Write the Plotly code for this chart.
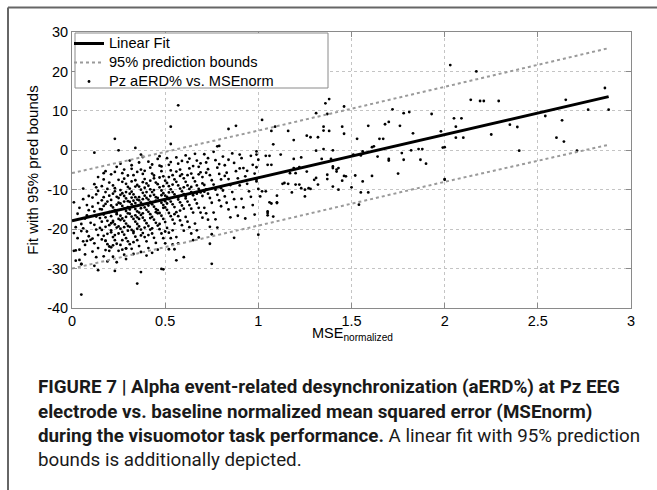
import plotly.graph_objects as go

# ---------------- data ----------------
fit_x = [0.0, 2.88]
fit_y = [-17.9, 13.6]

bound_x = [0.0, 1.0, 2.0, 2.88]
upper_y = [-5.8, 5.0, 16.1, 25.9]
lower_y = [-30.0, -19.1, -8.0, 1.4]

pts_dense_a = [
    (0.01,-13.2),(0.02,-19.5),(0.03,-16.1),(0.02,-25.4),(0.04,-27.8),(0.03,-22.3),(0.05,-18.7),(0.04,-14.6),(0.01,-21.0),(0.05,-28.9),
    (0.06,-12.4),(0.07,-17.3),(0.08,-20.6),(0.06,-23.1),(0.09,-15.2),(0.07,-26.4),(0.08,-13.9),(0.09,-21.8),(0.06,-9.7),(0.10,-18.4),
    (0.07,-24.0),(0.09,-11.6),(0.08,-16.5),(0.10,-22.7),(0.06,-19.8),
    (0.11,-14.3),(0.12,-18.9),(0.13,-11.2),(0.14,-21.5),(0.11,-25.7),(0.12,-8.6),(0.13,-16.8),(0.14,-13.4),(0.15,-19.7),(0.11,-22.4),
    (0.12,-15.5),(0.13,-27.1),(0.14,-10.3),(0.15,-17.2),(0.11,-12.0),(0.12,-23.6),(0.13,-20.1),(0.14,-6.8),(0.15,-14.9),(0.12,-29.3),
    (0.14,-24.8),(0.13,-9.4),
    (0.16,-12.7),(0.17,-16.3),(0.18,-19.4),(0.19,-9.8),(0.16,-22.6),(0.17,-14.1),(0.18,-25.3),(0.19,-17.9),(0.20,-11.5),(0.16,-20.2),
    (0.17,-7.4),(0.18,-13.6),(0.19,-23.8),(0.20,-15.7),(0.16,-18.1),(0.17,-26.9),(0.18,-10.6),(0.19,-21.2),(0.20,-19.0),(0.16,-15.0),
    (0.17,-11.9),(0.18,-17.0),(0.19,-13.0),(0.20,-24.4),(0.17,-21.7),(0.18,-5.3),(0.19,-28.2),(0.16,-9.1),(0.20,-8.2),(0.18,-22.9),
    (0.21,-6.1),(0.22,-8.9),(0.23,-10.4),(0.24,-11.8),(0.21,-12.6),(0.25,-13.3),(0.22,-14.5),(0.23,-15.2),(0.24,-15.9),(0.21,-16.7),
    (0.25,-17.4),(0.22,-18.2),(0.23,-18.8),(0.24,-19.6),(0.21,-20.3),(0.25,-21.1),(0.22,-22.0),(0.23,-22.8),(0.24,-23.7),(0.21,-24.6),
    (0.25,-25.5),(0.22,-27.0),(0.24,-28.4),(0.23,-9.6),(0.25,-12.1),(0.21,-14.0),(0.24,-16.2),(0.22,-17.9),(0.25,-19.3),(0.23,-21.5),
    (0.24,-13.8),(0.22,-11.0),(0.25,-7.5),(0.21,-20.8),(0.23,-15.5),(0.22,-24.1),(0.24,-4.2),(0.21,-18.5),
    (0.26,-3.4),(0.27,-5.8),(0.28,-7.2),(0.29,-8.5),(0.30,-9.3),(0.26,-10.1),(0.27,-10.9),(0.28,-11.6),(0.29,-12.2),(0.30,-12.9),
    (0.26,-13.5),(0.27,-14.1),(0.28,-14.8),(0.29,-15.4),(0.30,-16.0),(0.26,-16.6),(0.27,-17.3),(0.28,-17.9),(0.29,-18.6),(0.30,-19.2),
    (0.26,-19.9),(0.27,-20.7),(0.28,-21.4),(0.29,-22.3),(0.30,-23.1),(0.26,-24.0),(0.27,-25.2),(0.28,-26.5),(0.29,-24.9),(0.30,-6.4),
    (0.27,-8.0),(0.28,-13.0),(0.29,-16.9),(0.26,-11.3),(0.30,-14.4),(0.28,-19.5),(0.27,-22.8),(0.29,-10.6),(0.26,-17.7),(0.30,-20.4),
    (0.28,-4.9),(0.29,-27.6),
]

pts_dense_b = [
    (0.31,-2.6),(0.32,-4.7),(0.33,-6.3),(0.34,-7.6),(0.35,-8.8),(0.31,-9.7),(0.32,-10.5),(0.33,-11.2),(0.34,-11.9),(0.35,-12.5),
    (0.31,-13.1),(0.32,-13.7),(0.33,-14.3),(0.34,-14.9),(0.35,-15.5),(0.31,-16.1),(0.32,-16.8),(0.33,-17.4),(0.34,-18.1),(0.35,-18.7),
    (0.31,-19.4),(0.32,-20.2),(0.33,-21.0),(0.34,-21.9),(0.35,-22.8),(0.31,-23.8),(0.32,-25.0),(0.33,-26.3),(0.34,-9.2),(0.35,-5.5),
    (0.32,-7.9),(0.33,-12.8),(0.31,-15.0),(0.34,-16.5),(0.35,-19.9),(0.32,-12.0),(0.33,-23.3),(0.31,-11.0),(0.34,-13.4),(0.35,-17.0),
    (0.32,-3.8),(0.33,-20.6),
    (0.36,-3.1),(0.37,-4.9),(0.38,-6.0),(0.39,-7.3),(0.40,-8.4),(0.36,-9.2),(0.37,-10.0),(0.38,-10.8),(0.39,-11.5),(0.40,-12.1),
    (0.36,-12.7),(0.37,-13.3),(0.38,-13.9),(0.39,-14.5),(0.40,-15.1),(0.36,-15.8),(0.37,-16.4),(0.38,-17.1),(0.39,-17.8),(0.40,-18.5),
    (0.36,-19.3),(0.37,-20.1),(0.38,-21.0),(0.39,-22.0),(0.40,-23.1),(0.36,-24.3),(0.37,-25.8),(0.38,-8.1),(0.39,-5.2),(0.40,-10.6),
    (0.36,-11.9),(0.37,-14.7),(0.38,-16.0),(0.39,-19.6),(0.40,-13.6),(0.37,-21.6),(0.38,-12.4),(0.36,-17.4),(0.39,-9.5),(0.40,-26.7),
    (0.41,-2.9),(0.42,-4.4),(0.43,-5.9),(0.44,-7.1),(0.45,-8.2),(0.41,-9.0),(0.42,-9.9),(0.43,-10.6),(0.44,-11.3),(0.45,-11.9),
    (0.41,-12.5),(0.42,-13.1),(0.43,-13.7),(0.44,-14.3),(0.45,-14.9),(0.41,-15.6),(0.42,-16.2),(0.43,-16.9),(0.44,-17.6),(0.45,-18.4),
    (0.41,-19.2),(0.42,-20.1),(0.43,-21.1),(0.44,-22.2),(0.45,-23.5),(0.41,-24.8),(0.42,-7.7),(0.43,-3.6),(0.44,-10.1),(0.45,-12.8),
    (0.41,-14.0),(0.42,-17.2),(0.43,-19.8),(0.44,-6.4),(0.45,-15.7),(0.42,-11.6),(0.43,-26.0),(0.41,-21.5),
    (0.46,-2.2),(0.47,-3.9),(0.48,-5.3),(0.49,-6.6),(0.50,-7.7),(0.46,-8.6),(0.47,-9.4),(0.48,-10.2),(0.49,-10.9),(0.50,-11.5),
    (0.46,-12.1),(0.47,-12.7),(0.48,-13.3),(0.49,-13.9),(0.50,-14.5),(0.46,-15.2),(0.47,-15.9),(0.48,-16.6),(0.49,-17.4),(0.50,-18.2),
    (0.46,-19.1),(0.47,-20.0),(0.48,-21.1),(0.49,-22.3),(0.50,-23.6),(0.46,-25.2),(0.47,-6.9),(0.48,-4.1),(0.49,-9.1),(0.50,-12.9),
    (0.46,-16.0),(0.47,-18.7),(0.48,-11.4),(0.49,-14.6),(0.50,-20.6),(0.47,-1.5),
]

pts_dense_c = [
    (0.51,-2.0),(0.52,-3.7),(0.53,-5.1),(0.54,-6.3),(0.55,-7.4),(0.51,-8.3),(0.52,-9.1),(0.53,-9.9),(0.54,-10.6),(0.55,-11.2),
    (0.51,-11.8),(0.52,-12.4),(0.53,-13.0),(0.54,-13.7),(0.55,-14.4),(0.51,-15.1),(0.52,-15.9),(0.53,-16.7),(0.54,-17.6),(0.55,-18.6),
    (0.51,-19.7),(0.52,-20.9),(0.53,-22.3),(0.54,-23.9),(0.55,-25.1),(0.52,-6.8),(0.53,-3.0),(0.54,-8.7),(0.51,-13.5),(0.55,-16.2),
    (0.52,-10.7),(0.54,-20.3),
    (0.56,-1.8),(0.57,-3.4),(0.58,-4.9),(0.59,-6.1),(0.60,-7.1),(0.56,-8.0),(0.57,-8.9),(0.58,-9.7),(0.59,-10.4),(0.60,-11.1),
    (0.56,-11.8),(0.57,-12.5),(0.58,-13.2),(0.59,-14.0),(0.60,-14.8),(0.56,-15.7),(0.57,-16.7),(0.58,-17.8),(0.59,-19.0),(0.60,-20.4),
    (0.56,-22.0),(0.57,-23.6),(0.58,-6.5),(0.59,-2.7),(0.60,-9.4),(0.57,-12.0),(0.58,-15.3),(0.56,-5.4),
    (0.61,-1.3),(0.62,-3.0),(0.63,-4.6),(0.64,-5.9),(0.65,-7.0),(0.61,-8.0),(0.62,-8.9),(0.63,-9.8),(0.64,-10.6),(0.65,-11.4),
    (0.61,-12.2),(0.62,-13.0),(0.63,-13.9),(0.64,-14.8),(0.65,-15.8),(0.61,-16.9),(0.62,-18.1),(0.63,-19.5),(0.64,-21.1),(0.65,-22.8),
    (0.62,-6.3),(0.63,-2.1),(0.64,-9.3),(0.61,-11.7),(0.65,-4.0),
    (0.66,-0.9),(0.67,-2.6),(0.68,-4.2),(0.69,-5.6),(0.70,-6.8),(0.66,-7.9),(0.67,-8.9),(0.68,-9.8),(0.69,-10.7),(0.70,-11.6),
    (0.66,-12.5),(0.67,-13.5),(0.68,-14.6),(0.69,-15.8),(0.70,-17.1),(0.66,-18.6),(0.67,-20.3),(0.68,-22.1),(0.69,-3.3),(0.70,-8.4),
    (0.67,-11.0),(0.68,-6.1),
    (0.71,-1.0),(0.72,-3.1),(0.73,-4.8),(0.74,-6.3),(0.75,-7.6),(0.71,-8.8),(0.72,-9.9),(0.73,-11.0),(0.74,-12.1),(0.75,-13.3),
    (0.71,-14.6),(0.72,-16.0),(0.73,-17.6),(0.74,-19.4),(0.75,-21.3),(0.72,-5.7),(0.73,-2.0),(0.71,-10.5),
    (0.76,-0.4),(0.77,-2.5),(0.78,-4.4),(0.79,-6.0),(0.80,-7.4),(0.76,-8.7),(0.77,-10.0),(0.78,-11.3),(0.79,-12.7),(0.80,-14.2),
    (0.76,-15.8),(0.77,-17.5),(0.78,-19.6),(0.79,-3.5),(0.80,-9.6),
    (0.81,-1.6),(0.82,-3.8),(0.83,-5.7),(0.84,-7.3),(0.85,-8.8),(0.81,-10.2),(0.82,-11.7),(0.83,-13.3),(0.84,-15.0),(0.85,-17.0),
    (0.82,-6.5),(0.84,-2.4),
    (0.86,-0.8),(0.87,-3.2),(0.88,-5.3),(0.89,-7.1),(0.90,-8.9),(0.86,-10.6),(0.87,-12.4),(0.88,-14.4),(0.89,-16.6),(0.90,-4.6),
    (0.91,-2.0),(0.92,-4.5),(0.93,-6.6),(0.94,-8.5),(0.95,-10.4),(0.91,-12.3),(0.92,-14.5),(0.93,-17.3),(0.94,-5.2),
    (0.96,-1.4),(0.97,-3.7),(0.98,-5.9),(0.99,-7.9),(1.00,-9.8),(0.96,-11.8),(0.97,-13.9),(0.98,-16.3),(0.99,-4.3),
]

pts_low = [
    (0.05,-36.6),(0.35,-33.8),(0.37,-30.9),(0.48,-30.1),(0.49,-30.2),(0.56,-27.9),(0.60,-27.1),(0.75,-28.8),(0.74,-23.7),
    (0.87,-22.2),(0.14,-30.4),(0.23,-30.6),(0.05,-28.8),(0.02,-28.0),(0.04,-25.2),(0.01,-25.5),(0.08,-23.0),(0.05,-20.5),
    (0.18,-23.0),(0.20,-25.5),(0.29,-24.9),(0.52,-25.1),
]

pts_high = [
    (0.23,2.9),(0.34,0.6),(0.12,-0.6),(0.25,0.0),(0.37,-1.1),(0.38,-1.7),(0.53,6.0),(0.53,1.6),(0.57,11.4),(0.84,5.4),
    (0.88,6.2),(0.79,1.1),(0.78,1.0),(0.90,-1.1),(0.99,-0.3),(0.17,-5.8),(0.23,-5.5),
]

pts_mid = [
    (1.36,11.9),(1.38,13.0),(1.02,7.7),(1.31,9.4),(1.37,9.2),(1.46,11.1),(1.72,10.4),(1.78,9.4),(1.81,9.7),(1.93,9.2),
    (1.07,4.9),(1.09,6.0),(1.16,4.9),(1.19,2.6),(1.26,3.7),(1.28,3.3),(1.32,3.3),(1.35,6.0),(1.35,5.0),(1.38,4.9),
    (1.45,6.0),(1.46,4.2),(1.53,2.9),(1.59,6.2),(1.68,6.6),(1.70,7.2),(1.76,6.2),(1.83,4.3),(1.98,4.8),(1.65,2.9),
    (1.67,2.9),(1.08,1.5),(1.12,-1.1),(0.99,-1.1),(1.04,-1.4),(1.06,-1.4),(1.00,-2.4),(1.05,-3.7),(1.07,-3.7),(1.19,-2.2),
    (1.23,-1.8),(1.31,-0.1),(1.35,0.3),(1.40,0.0),(1.34,-2.2),(1.39,-2.2),(1.55,-1.3),(1.61,0.8),(1.64,-1.6),(1.70,-2.2),
    (1.70,-2.6),(1.78,-2.4),(1.87,-2.4),(1.90,-3.4),(1.86,0.3),(1.88,0.3),(1.82,0.0),(1.77,-0.7),(2.00,0.8),(1.17,-5.8),
    (1.19,-4.5),(1.20,-5.8),(1.22,-4.3),(1.26,-5.4),(1.37,-6.2),(1.40,-4.5),(1.42,-4.9),(1.31,-7.0),(1.37,-7.3),(1.45,-7.7),
    (1.47,-6.6),(1.52,-6.4),(1.56,-7.9),(1.61,-6.5),(1.75,-5.9),(1.14,-8.3),(1.16,-8.5),(1.20,-8.7),(1.22,-8.7),(1.18,-10.7),
    (1.23,-9.6),(1.25,-11.7),(1.27,-9.6),(1.28,-9.8),(1.32,-8.7),(1.40,-9.2),(1.50,-9.4),(1.55,-10.7),(1.59,-10.7),(1.54,-13.8),
    (1.02,-10.4),(1.01,-11.7),(1.04,-10.4),(1.06,-13.2),(1.07,-13.5),(1.10,-11.5),(1.10,-13.2),(1.05,-15.5),(1.05,-16.5),(1.08,-16.8),
    (1.00,-21.4),(0.99,-7.5),(1.13,-8.5),(1.25,-10.0),(1.30,-7.5),(1.43,-10.0),(1.46,-6.5),(1.42,-5.4),(2.00,-7.3),(1.10,-13.4),
    (1.05,-15.9),(1.51,-1.1),(1.56,-0.3),(1.62,1.0),(1.43,-4.5),(1.40,-4.1),
]

pts_right = [
    (2.03,21.6),(2.17,20.0),(2.14,12.8),(2.19,12.5),(2.21,12.5),(2.29,12.5),(2.05,8.1),(2.09,8.1),(2.06,6.0),(2.06,3.2),
    (2.10,3.2),(1.99,0.7),(2.25,4.0),(2.35,6.5),(2.39,5.9),(2.40,-0.1),(2.54,8.7),(2.60,3.2),(2.63,7.6),(2.64,2.2),
    (2.65,12.8),(2.71,-0.1),(2.77,10.3),(2.86,15.8),(2.88,10.3),(2.00,-7.5),
]

x_ticks = [0, 0.5, 1, 1.5, 2, 2.5, 3]
y_ticks = [-40, -30, -20, -10, 0, 10, 20, 30]

series_names = ["Linear Fit", "95% prediction bounds", "Pz aERD% vs. MSEnorm"]

caption_lines = [
    "<b>FIGURE 7 | Alpha event-related desynchronization (aERD%) at Pz EEG</b>",
    "<b>electrode vs. baseline normalized mean squared error (MSEnorm)</b>",
    "<b>during the visuomotor task performance.</b> A linear fit with 95% prediction",
    "bounds is additionally depicted.",
]

# ---------------- figure ----------------
all_pts = pts_dense_a + pts_dense_b + pts_dense_c + pts_low + pts_high + pts_mid + pts_right
px = [p[0] for p in all_pts]
py = [p[1] for p in all_pts]

def legend_label(s):
    return '<span style="font-size:14.6px">' + s + '</span>'

fig = go.Figure()
fig.add_trace(go.Scatter(
    x=px, y=py, mode="markers", name=legend_label(series_names[2]),
    marker=dict(color="black", size=2.8, line=dict(width=0)), legendrank=3))
fig.add_trace(go.Scatter(
    x=bound_x, y=upper_y, mode="lines", name=legend_label(series_names[1]),
    line=dict(color="#9a9a9a", width=2, dash="dot"), legendrank=2))
fig.add_trace(go.Scatter(
    x=bound_x, y=lower_y, mode="lines", showlegend=False,
    line=dict(color="#9a9a9a", width=2, dash="dot")))
fig.add_trace(go.Scatter(
    x=fit_x, y=fit_y, mode="lines", name=legend_label(series_names[0]),
    line=dict(color="black", width=3), legendrank=1))

L, R, T, B = 72, 26, 32, 182
W, H = 657, 490
pw, ph = W - L - R, H - T - B

def xp(pxv):
    return (pxv - L) / pw

def yp(pyv):
    return (H - B - pyv) / ph

axis_common = dict(
    showline=True, linecolor="#8a8a8a", linewidth=1, mirror="ticks",
    ticks="inside", ticklen=5, tickcolor="#8a8a8a",
    showgrid=True, gridcolor="#c4c4c4", griddash="dot", gridwidth=1,
    zeroline=False, tickfont=dict(family="Liberation Sans, Arial", size=14.5, color="black"),
)

fig.update_layout(
    width=W, height=H,
    margin=dict(l=L, r=R, t=T, b=B, autoexpand=False),
    paper_bgcolor="white", plot_bgcolor="white",
    font=dict(family="Liberation Sans, Arial", size=14, color="black"),
    xaxis=dict(range=[0, 3], tickvals=x_ticks, ticktext=[str(v) for v in x_ticks],
               **axis_common),
    yaxis=dict(range=[-40, 30], tickvals=y_ticks, ticktext=[str(v) for v in y_ticks],
               title=dict(text="Fit with 95% pred bounds", standoff=4,
                          font=dict(size=15)), **axis_common),
    legend=dict(x=xp(69), y=yp(29), xanchor="left", yanchor="top",
                bgcolor="rgba(0,0,0,0)", borderwidth=0,
                font=dict(size=11), tracegroupgap=0, itemwidth=30),
    showlegend=True,
)

# legend frame
fig.add_shape(type="rect", xref="paper", yref="paper", layer="above",
              x0=xp(75), x1=xp(328), y0=yp(33), y1=yp(88),
              fillcolor="white", line=dict(color="#8a8a8a", width=1))

# x axis title
fig.add_annotation(text="MSE<sub>normalized</sub>", xref="paper", yref="paper",
                   x=xp(352), y=yp(323), xanchor="center", yanchor="top",
                   showarrow=False, font=dict(family="Liberation Sans, Arial", size=14.5))

# figure frame (top and left rules)
fig.add_shape(type="line", xref="paper", yref="paper",
              x0=xp(8), x1=xp(660), y0=yp(7.5), y1=yp(7.5),
              line=dict(color="#666666", width=2))
fig.add_shape(type="line", xref="paper", yref="paper",
              x0=xp(8), x1=xp(8), y0=yp(7.5), y1=yp(495),
              line=dict(color="#666666", width=2))

line_centers = [387, 411.5, 436, 460]
for txt, cy in zip(caption_lines, line_centers):
    fig.add_annotation(text=txt, xref="paper", yref="paper",
                       x=xp(36), y=yp(cy), xanchor="left", yanchor="middle",
                       showarrow=False, align="left",
                       font=dict(family="Roboto, Arial", size=18.8, color="#1a1a1a"))

fig.write_html("out.html", config={"displayModeBar": False},
               post_script="document.body.style.margin='0';document.body.style.padding='0';")
